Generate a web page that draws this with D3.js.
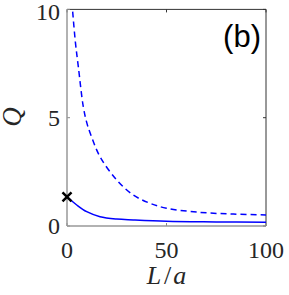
<!DOCTYPE html>
<html lang="en">
<head>
  <meta charset="UTF-8">
  <script src="https://cdn.jsdelivr.net/npm/d3@7"></script>
  <title>Q vs L/a</title>
  <style>
    body { margin: 0; background: #fff; }
  </style>
</head>
<body>
  <svg width="289" height="295"></svg>

  <script>
    // data
    var dashedL = [2.85, 4.2, 5.7, 8.2, 10, 12.4, 16.6, 25, 33.3, 41.7, 50, 66.8, 83.6, 100];
    var dashedQ = [9.9, 8.5, 7.35, 5.5, 4.75, 4.1, 3.2, 2.12, 1.43, 1.05, 0.82, 0.63, 0.55, 0.51];
    var solidL = [0, 4.9, 9.9, 16.6, 25, 33.3, 50, 75, 100];
    var solidQ = [1.35, 0.97, 0.66, 0.43, 0.32, 0.28, 0.22, 0.19, 0.17];
    var markL = [0];
    var markQ = [1.35];
    var xTicks = [0, 50, 100];
    var yTicks = [0, 5, 10];

    var svg = d3.select("svg");
    var marge = { top: 9.4, left: 67, right: 23, bottom: 69 };
    var width = 289 - marge.left - marge.right;
    var height = 295 - marge.top - marge.bottom;

    var x = d3.scaleLinear().domain([0, 100]).range([0, width]);
    var y = d3.scaleLinear().domain([0, 10]).range([height, 0]);

    var g = svg.append("g")
      .attr("transform", "translate(" + marge.left + "," + marge.top + ")");

    g.append("clipPath").attr("id", "clip")
      .append("rect").attr("width", width).attr("height", height);

    // box: top and right darker
    g.append("line").attr("x1", 0).attr("x2", width).attr("y1", 0).attr("y2", 0)
      .attr("stroke", "#333").attr("stroke-width", 1);
    g.append("line").attr("x1", width).attr("x2", width).attr("y1", 0).attr("y2", height)
      .attr("stroke", "#333").attr("stroke-width", 1);

    // ticks (inward) on all sides
    xTicks.forEach(function(t){
      g.append("line").attr("x1", x(t)).attr("x2", x(t)).attr("y1", height).attr("y2", height - 3)
        .attr("stroke", "#888");
      g.append("line").attr("x1", x(t)).attr("x2", x(t)).attr("y1", 0).attr("y2", 3)
        .attr("stroke", "#333");
    });
    yTicks.forEach(function(t){
      g.append("line").attr("x1", 0).attr("x2", 3).attr("y1", y(t)).attr("y2", y(t))
        .attr("stroke", "#888");
      g.append("line").attr("x1", width).attr("x2", width - 3).attr("y1", y(t)).attr("y2", y(t))
        .attr("stroke", "#333");
    });

    var line = d3.line()
      .x(function(d){ return x(d[0]) })
      .y(function(d){ return y(d[1]) })
      .curve(d3.curveCatmullRom.alpha(0.5));

    g.append("path")
      .datum(d3.zip(dashedL, dashedQ))
      .attr("clip-path", "url(#clip)")
      .attr("d", line)
      .attr("fill", "none")
      .attr("stroke", "#0000ff")
      .attr("stroke-width", 1.5)
      .attr("stroke-dasharray", "6,4");

    g.append("path")
      .datum(d3.zip(solidL, solidQ))
      .attr("d", line)
      .attr("fill", "none")
      .attr("stroke", "#0000ff")
      .attr("stroke-width", 1.5);

    // left and bottom axis lines, gray
    g.append("line").attr("x1", 0).attr("x2", 0).attr("y1", 0).attr("y2", height)
      .attr("stroke", "#999").attr("stroke-width", 1.5);
    g.append("line").attr("x1", 0).attr("x2", width).attr("y1", height).attr("y2", height)
      .attr("stroke", "#999").attr("stroke-width", 1.5);

    // cross marker
    d3.zip(markL, markQ).forEach(function(d){
      var cx = x(d[0]), cy = y(d[1]), s = 4.5;
      g.append("path")
        .attr("d", "M" + (cx - s) + "," + (cy - s) + "L" + (cx + s) + "," + (cy + s) +
                   "M" + (cx - s) + "," + (cy + s) + "L" + (cx + s) + "," + (cy - s))
        .attr("stroke", "#000").attr("stroke-width", 2.5);
    });

    // tick labels
    var serif = "'Liberation Serif', 'DejaVu Serif', serif";
    g.selectAll(".xl").data(xTicks).enter().append("text")
      .attr("x", function(d){ return x(d) })
      .attr("y", height + 32)
      .attr("text-anchor", "middle")
      .attr("font-family", serif).attr("font-size", 24).attr("fill", "#262626")
      .text(function(d){ return d });
    g.selectAll(".yl").data(yTicks).enter().append("text")
      .attr("x", -7)
      .attr("y", function(d){ return Math.max(y(d) + 8, 11) })
      .attr("text-anchor", "end")
      .attr("font-family", serif).attr("font-size", 24).attr("fill", "#262626")
      .text(function(d){ return d });

    // axis titles
    var xt = svg.append("text")
      .attr("x", marge.left + width / 2)
      .attr("y", 284)
      .attr("text-anchor", "middle")
      .attr("font-family", serif).attr("font-size", 26).attr("fill", "#262626");
    xt.append("tspan").attr("font-style", "italic").text("L");
    xt.append("tspan").attr("dx", 3).text("/");
    xt.append("tspan").attr("dx", 2).attr("font-style", "italic").text("a");

    svg.append("text")
      .attr("transform", "translate(21,117) rotate(-90)")
      .attr("text-anchor", "middle")
      .attr("font-family", serif).attr("font-size", 27).attr("font-style", "italic")
      .attr("fill", "#262626")
      .text("Q");

    // panel label
    svg.append("text")
      .attr("x", 261)
      .attr("y", 47)
      .attr("text-anchor", "end")
      .attr("font-family", "'Liberation Sans', Arial, sans-serif")
      .attr("font-size", 31).attr("fill", "#000")
      .text("(b)");
  </script>
</body>
</html>
